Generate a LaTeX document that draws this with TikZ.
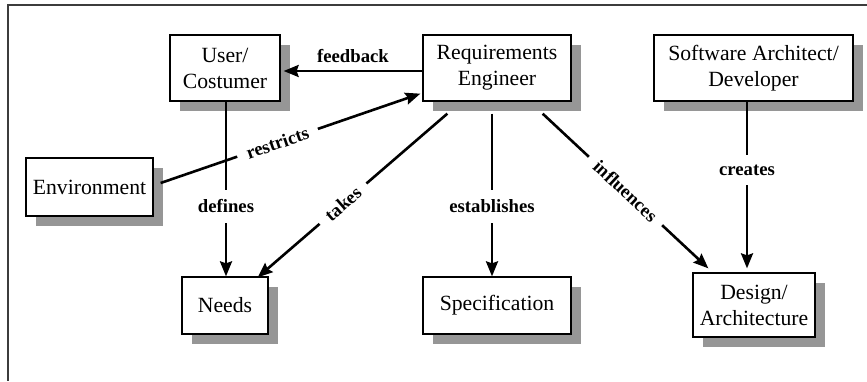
\documentclass[tikz,border=0pt]{standalone}
\usepackage{fontspec}
\setmainfont{Liberation Serif}
\usetikzlibrary{arrows.meta,shadows}
\definecolor{shadowgray}{RGB}{150,150,150}
\definecolor{framegray}{RGB}{60,60,60}
\newcommand\bxfont{\fontsize{21.7pt}{26pt}\selectfont}
\newcommand\lbfont{\fontsize{18.7pt}{22pt}\selectfont\bfseries}
\begin{document}
\begin{tikzpicture}[x=1pt,y=-1pt,
  box/.style={draw, line width=1.3pt, fill=white, align=center, inner sep=0pt, font=\bxfont,
    drop shadow={shadow xshift=9.5pt, shadow yshift=-9.5pt, opacity=1, fill=shadowgray}},
  lab/.style={font=\lbfont, fill=white, inner xsep=10pt, inner ysep=10pt},
  arr/.style={line width=2.6pt, -{Stealth[length=15pt,width=12pt,inset=2pt]}}]
\useasboundingbox (0,0) rectangle (867,381);
\draw[line width=1.6pt, framegray] (867,5) -- (8,5) -- (8,381);
% nodes
\node[box, minimum width=110pt, minimum height=66pt] (User) at (225,68) {User/\\Costumer};
\node[box, minimum width=148pt, minimum height=66pt] (Req) at (497,68) {Requirements\\Engineer};
\node[box, minimum width=199pt, minimum height=66pt] (SA) at (753.5,68) {Software Architect/\\Developer};
\node[box, minimum width=127pt, minimum height=58pt] (Env) at (89.5,187) {Environment};
\node[box, minimum width=86pt, minimum height=57pt] (Needs) at (225,305.5) {Needs};
\node[box, minimum width=148pt, minimum height=57pt] (Spec) at (497,305.5) {Specification};
\node[box, minimum width=122pt, minimum height=64pt] (Design) at (754,305) {Design/\\Architecture};
% connectors
\draw[arr] ([yshift=-3pt]Req.west) -- node[font=\lbfont, above=7pt, inner sep=0pt] {feedback} ([xshift=3pt,yshift=-3pt]User.east);
\draw[arr] ([xshift=7pt,yshift=4pt]Env.east) -- node[lab, sloped, pos=0.45] {restricts} ([xshift=-2pt,yshift=8pt]Req.south west);
\draw[arr] ([xshift=1pt]User.south) -- node[lab, pos=0.6] {defines} ([xshift=1pt]Needs.north);
\draw[arr] ([xshift=25pt,yshift=-12pt]Req.south west) -- node[lab, sloped, pos=0.55] {takes} ([xshift=-11pt,yshift=-1pt]Needs.north east);
\draw[arr] ([xshift=-5pt,yshift=-12pt]Req.south) -- node[lab, pos=0.57] {establishes} ([xshift=-5pt]Spec.north);
\draw[arr] ([xshift=-29pt,yshift=-12pt]Req.south east) -- node[lab, sloped, pos=0.5] {influences} ([xshift=16pt,yshift=4pt]Design.north west);
\draw[arr] ([xshift=-6.5pt]SA.south) -- node[lab, pos=0.41] {creates} ([xshift=-7pt,yshift=4pt]Design.north);
\end{tikzpicture}
\end{document}
